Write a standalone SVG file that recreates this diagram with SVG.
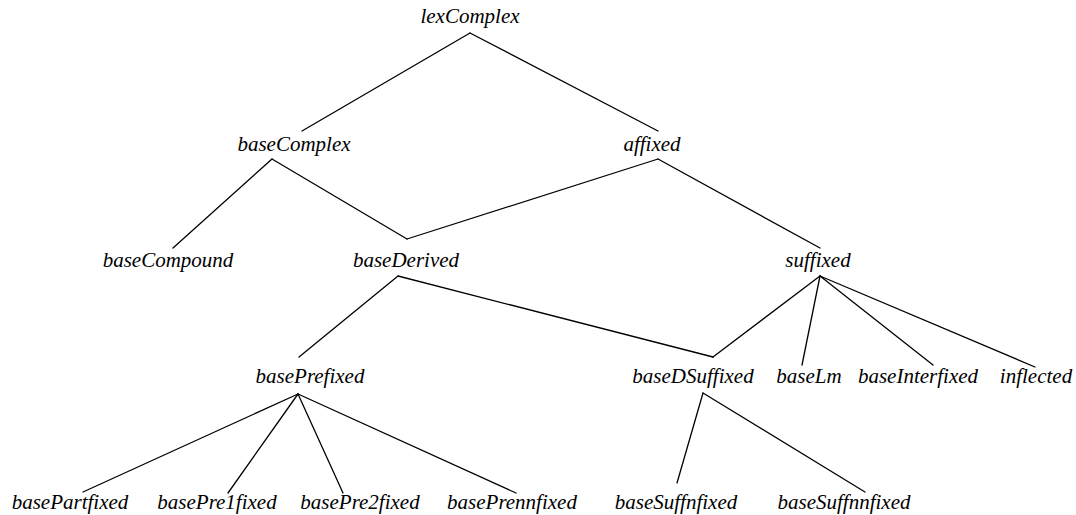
<svg xmlns="http://www.w3.org/2000/svg" width="1076" height="515" viewBox="0 0 1076 515">
  <style>
    .lbl { font-family: 'Liberation Serif', 'DejaVu Serif', serif; font-style: italic; font-size: 21px; fill: #000; text-anchor: middle; }
    .edge { stroke: #000; stroke-width: 1.3; fill: none; stroke-linecap: round; }
  </style>
  <rect width="1076" height="515" fill="#fff"/>
  <!-- tree edges -->
  <g id="connectors">
    <line class="edge" x1="470" y1="33" x2="302" y2="131"/>
    <line class="edge" x1="470" y1="33" x2="658" y2="131"/>
    <line class="edge" x1="272" y1="159" x2="173" y2="248"/>
    <line class="edge" x1="272" y1="159" x2="407" y2="239"/>
    <line class="edge" x1="658" y1="159" x2="407" y2="239"/>
    <line class="edge" x1="658" y1="159" x2="820" y2="248"/>
    <line class="edge" x1="398" y1="276" x2="299" y2="357"/>
    <line class="edge" x1="398" y1="276" x2="713" y2="357"/>
    <line class="edge" x1="820" y1="276" x2="713" y2="357"/>
    <line class="edge" x1="820" y1="276" x2="802" y2="365"/>
    <line class="edge" x1="820" y1="276" x2="933" y2="365"/>
    <line class="edge" x1="820" y1="276" x2="1035" y2="367"/>
    <line class="edge" x1="298" y1="394" x2="83" y2="492"/>
    <line class="edge" x1="298" y1="394" x2="228" y2="493"/>
    <line class="edge" x1="298" y1="394" x2="343" y2="493"/>
    <line class="edge" x1="298" y1="394" x2="516" y2="493"/>
    <line class="edge" x1="703" y1="393" x2="677" y2="483"/>
    <line class="edge" x1="703" y1="393" x2="865" y2="492"/>
  </g>
  <g font-family="Liberation Serif, serif" font-style="italic">
  <g id="lexComplex"><text class="lbl" x="470" y="23">lexComplex</text></g>
  <g id="baseComplex"><text class="lbl" x="294" y="151">baseComplex</text></g>
  <g id="affixed"><text class="lbl" x="652" y="151">affixed</text></g>
  <g id="baseCompound"><text class="lbl" x="168" y="267">baseCompound</text></g>
  <g id="baseDerived"><text class="lbl" x="406" y="267">baseDerived</text></g>
  <g id="suffixed"><text class="lbl" x="818" y="267">suffixed</text></g>
  <g id="basePrefixed"><text class="lbl" x="310" y="383">basePrefixed</text></g>
  <g id="baseDSuffixed"><text class="lbl" x="693" y="383">baseDSuffixed</text></g>
  <g id="baseLm"><text class="lbl" x="809" y="383">baseLm</text></g>
  <g id="baseInterfixed"><text class="lbl" x="918" y="383">baseInterfixed</text></g>
  <g id="inflected"><text class="lbl" x="1036" y="383">inflected</text></g>
  <g id="basePartfixed"><text class="lbl" x="70" y="509">basePartfixed</text></g>
  <g id="basePre1fixed"><text class="lbl" x="217" y="509">basePre1fixed</text></g>
  <g id="basePre2fixed"><text class="lbl" x="360" y="509">basePre2fixed</text></g>
  <g id="basePrennfixed"><text class="lbl" x="512" y="509">basePrennfixed</text></g>
  <g id="baseSuffnfixed"><text class="lbl" x="676" y="509">baseSuffnfixed</text></g>
  <g id="baseSuffnnfixed"><text class="lbl" x="844" y="509">baseSuffnnfixed</text></g>
  </g>
</svg>
